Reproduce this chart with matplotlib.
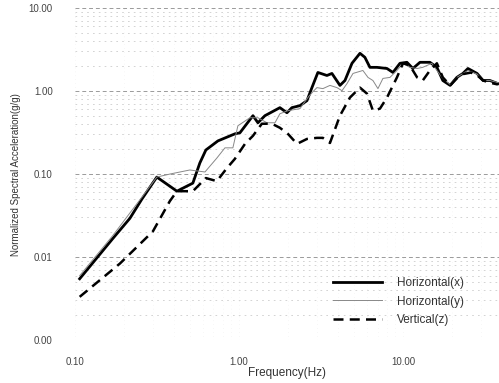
import numpy as np
import matplotlib.pyplot as plt
from matplotlib.ticker import LogLocator, FixedLocator, FixedFormatter

plt.rcParams['font.family'] = ['Liberation Sans', 'DejaVu Sans']

# horizontal x (thick solid)
freq_x = [0.107, 0.1705, 0.2165, 0.256, 0.316, 0.419, 0.524, 0.578, 0.629, 0.745, 0.945,
          1.014, 1.218, 1.306, 1.441, 1.778, 1.963, 2.104, 2.355, 2.6, 2.787, 3.03, 3.44,
          3.69, 4.13, 4.43, 4.89, 5.47, 5.86, 6.29, 6.94, 7.99, 8.69, 9.59, 10.57, 11.5,
          12.7, 14.6, 16.1, 17.5, 19.4, 21.3, 23.2, 24.9, 28.3, 30.8, 33.9, 37.9]
acc_x = [0.00548, 0.01676, 0.0293, 0.0498, 0.092, 0.0622, 0.0778, 0.136, 0.195, 0.251, 0.305,
         0.314, 0.505, 0.415, 0.505, 0.631, 0.548, 0.631, 0.667, 0.767, 1.10, 1.675, 1.54,
         1.63, 1.17, 1.34, 2.16, 2.85, 2.55, 1.93, 1.93, 1.87, 1.675, 2.16, 2.22, 1.87,
         2.22, 2.22, 1.93, 1.34, 1.17, 1.46, 1.63, 1.87, 1.63, 1.34, 1.34, 1.23]

# horizontal y (thin grey)
freq_y = [0.107, 0.1705, 0.256, 0.316, 0.379, 0.502, 0.621, 0.734, 0.822, 0.919, 0.986,
          1.167, 1.306, 1.482, 1.659, 1.778, 1.99, 2.355, 2.63, 2.83, 2.99, 3.25, 3.59,
          3.96, 4.25, 4.56, 4.96, 5.7, 6.12, 6.56, 7.04, 7.55, 8.33, 9.19, 10.0, 11.0,
          12.2, 13.2, 15.0, 16.1, 17.5, 19.4, 21.3, 23.2, 24.9, 28.3, 30.8, 33.9, 37.9]
acc_y = [0.00597, 0.0182, 0.0526, 0.092, 0.1, 0.112, 0.106, 0.156, 0.207, 0.207, 0.382,
         0.477, 0.477, 0.415, 0.415, 0.533, 0.58, 0.614, 0.834, 0.986, 1.10, 1.07, 1.17,
         1.10, 1.01, 1.23, 1.63, 1.77, 1.46, 1.34, 1.07, 1.42, 1.46, 1.77, 2.16, 1.93,
         1.87, 1.93, 2.16, 1.77, 1.42, 1.2, 1.46, 1.63, 1.77, 1.6, 1.34, 1.34, 1.26]

# vertical z (dashed)
freq_z = [0.107, 0.188, 0.299, 0.379, 0.419, 0.524, 0.629, 0.734, 0.845, 0.944, 1.089,
          1.218, 1.38, 1.589, 1.778, 1.99, 2.26, 2.6, 2.99, 3.25, 3.59, 4.13, 4.75, 5.47,
          6.03, 6.56, 7.24, 7.99, 9.19, 10.0, 11.0, 12.2, 13.2, 14.6, 16.1, 17.5, 19.4,
          21.3, 23.2, 26.0, 28.3, 30.8, 33.9, 37.9]
acc_z = [0.00332, 0.00834, 0.0204, 0.0471, 0.0622, 0.0622, 0.0895, 0.0822, 0.118, 0.152, 0.231,
         0.289, 0.404, 0.404, 0.361, 0.305, 0.231, 0.265, 0.273, 0.273, 0.237, 0.505, 0.834, 1.10,
         0.933, 0.58, 0.614, 0.834, 1.46, 2.16, 2.04, 1.46, 1.34, 1.77, 2.16, 1.46, 1.17,
         1.42, 1.6, 1.67, 1.55, 1.34, 1.26, 1.2]

y_ticks = [0.001, 0.01, 0.1, 1, 10]
y_labels = ['0.00', '0.01', '0.10', '1.00', '10.00']
x_ticks = [0.1, 1, 10]
x_labels = ['0.10', '1.00', '10.00']

fig = plt.figure(figsize=(4.99, 3.83), dpi=100)
ax = fig.add_axes([0.150, 0.112, 0.850, 0.867])
ax.set_xscale('log')
ax.set_yscale('log')
ax.set_xlim(0.1, 38.5)
ax.set_ylim(0.001, 10)

ax.plot(freq_x, acc_x, color='black', lw=2.0, label='Horizontal(x)')
ax.plot(freq_y, acc_y, color='#888888', lw=0.7, label='Horizontal(y)')
ax.plot(freq_z, acc_z, color='black', lw=1.8, ls=(0, (4, 2.5)), label='Vertical(z)')

ax.yaxis.set_major_locator(FixedLocator(y_ticks))
ax.yaxis.set_major_formatter(FixedFormatter(y_labels))
ax.yaxis.set_minor_locator(LogLocator(base=10, subs=np.arange(2, 10)))
ax.xaxis.set_major_locator(FixedLocator(x_ticks))
ax.xaxis.set_major_formatter(FixedFormatter(x_labels))
ax.xaxis.set_minor_locator(LogLocator(base=10, subs=np.arange(2, 10)))
ax.yaxis.set_minor_formatter(FixedFormatter([]))
ax.xaxis.set_minor_formatter(FixedFormatter([]))

ax.grid(True, axis='y', which='major', color='#9a9a9a', lw=0.7, ls=(0, (4, 3)))
ax.grid(True, axis='y', which='minor', color='#cccccc', lw=0.6, ls=(0, (2, 5)))
ax.grid(True, axis='x', which='both', color='#e8e8e8', lw=0.4, ls=(0, (1, 6)))

for s in ax.spines.values():
    s.set_visible(False)
ax.tick_params(which='both', length=0, labelsize=7, labelcolor='#444444')
ax.tick_params(axis='y', pad=16)
ax.tick_params(axis='x', pad=12)

ax.set_ylabel('Normalized Spectral Acceleration(g/g)', fontsize=7, color='#333333')
ax.yaxis.set_label_coords(-0.128, 0.50)
ax.set_xlabel('Frequency(Hz)', fontsize=8.5, color='#333333')
ax.xaxis.set_label_coords(0.5, -0.082)

leg = ax.legend(loc='upper left', bbox_to_anchor=(0.583, 0.222), frameon=False,
                fontsize=8.5, handlelength=4.2, labelspacing=0.55, handletextpad=1.2)
for t in leg.get_texts():
    t.set_color('#333333')

fig.savefig('out.png', dpi=100)
